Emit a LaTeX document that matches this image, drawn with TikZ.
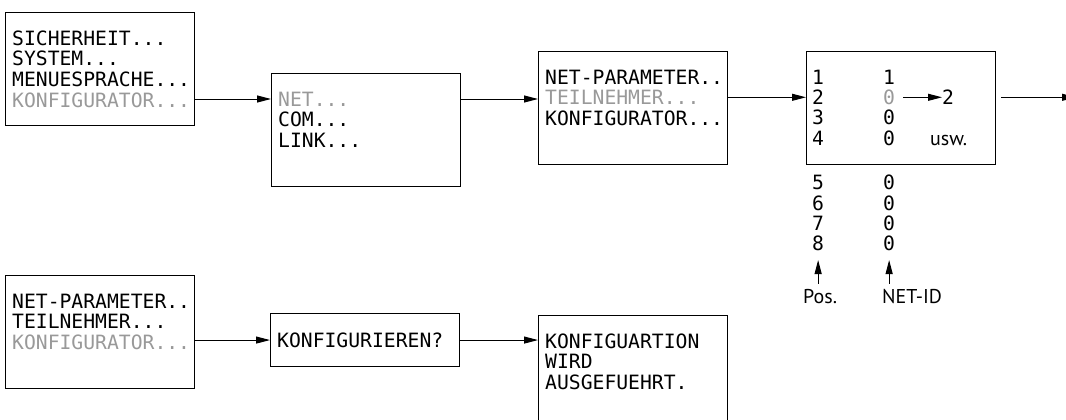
\documentclass[tikz,border=0pt]{standalone}
\usepackage{fontspec}
\newfontfamily\lcdfont{DejaVu Sans Mono}
\newfontfamily\notefont{PT Sans}
\usetikzlibrary{arrows.meta,positioning,calc}
\definecolor{lcdgray}{gray}{0.6}
\tikzstyle{screen} = [rectangle, draw, line width=1.1pt, minimum width=189pt, minimum height=113pt, inner sep=0pt, anchor=north west]
\tikzstyle{lcd} = [font=\lcdfont\fontsize{19.7}{20}\selectfont, inner sep=0pt, text height=14.4pt, text depth=0pt, anchor=west]
\tikzstyle{dim} = [lcd, text=lcdgray]
\tikzstyle{note} = [font=\notefont\fontsize{20}{22}\selectfont, inner sep=0pt, anchor=base west]
\tikzstyle{flow} = [-{Triangle[length=14pt,width=7pt]}, line width=1pt]

\begin{document}
\begin{tikzpicture}[x=1pt, y=-1pt]
\useasboundingbox (0,0) rectangle (1066,420);

% Top row: main menu
\node[screen] (menu1) at (5,12) {};
\node[lcd] (m1a) at ($(menu1.north west)+(7,26)$) {SICHERHEIT...};
\node[lcd, below=5.9pt of m1a.south west, anchor=north west] (m1b) {SYSTEM...};
\node[lcd, below=5.9pt of m1b.south west, anchor=north west] (m1c) {MENUESPRACHE...};
\node[dim, below=5.9pt of m1c.south west, anchor=north west] (m1d) {KONFIGURATOR...};

% Interface menu
\node[screen] (menu2) at (271,73) {};
\node[dim] (m2a) at ($(menu2.north west)+(7,26)$) {NET...};
\node[lcd, below=5.9pt of m2a.south west, anchor=north west] (m2b) {COM...};
\node[lcd, below=5.9pt of m2b.south west, anchor=north west] (m2c) {LINK...};

% NET menu
\node[screen] (menu3) at (538,51) {};
\node[lcd] (m3a) at ($(menu3.north west)+(7,26)$) {NET-PARAMETER..};
\node[dim, below=5.9pt of m3a.south west, anchor=north west] (m3b) {TEILNEHMER...};
\node[lcd, below=5.9pt of m3b.south west, anchor=north west] (m3c) {KONFIGURATOR...};

% Station table
\node[screen] (tab) at (806,51) {};
\foreach \i/\v/\c in {1/1/black,2/0/lcdgray,3/0/black,4/0/black,5/0/black,6/0/black,7/0/black,8/0/black} {
  \pgfmathsetmacro{\ry}{77+20.3*(\i-1)+(\i>4)*24.5}
  \node[lcd] (p\i) at (812,\ry) {\i};
  \node[lcd, text=\c] (n\i) at (883,\ry) {\v};
}
\node[lcd] (new) at (942,97.3) {2};
\node[note] (usw) at (930,145) {usw.};
\node[note] (pos) at (803,303) {Pos.};
\node[note] (netid) at (882,303) {NET-ID};
\coordinate (exit) at (1076,97.3);

% Bottom row
\node[screen] (menu5) at (5,275) {};
\node[lcd] (m5a) at ($(menu5.north west)+(7,26)$) {NET-PARAMETER..};
\node[lcd, below=5.9pt of m5a.south west, anchor=north west] (m5b) {TEILNEHMER...};
\node[dim, below=5.9pt of m5b.south west, anchor=north west] (m5c) {KONFIGURATOR...};

\node[screen, minimum height=53pt] (ask) at (270,313) {};
\node[lcd] (k) at ($(ask.west)+(7,0)$) {KONFIGURIEREN?};

\node[screen] (run) at (538,315) {};
\node[lcd] (r1) at ($(run.north west)+(7,26)$) {KONFIGUARTION};
\node[lcd, below=5.9pt of r1.south west, anchor=north west] (r2) {WIRD};
\node[lcd, below=5.9pt of r2.south west, anchor=north west] (r3) {AUSGEFUEHRT.};

% Arrows
\draw[flow] (menu1.east |- m2a) -- (menu2.west |- m2a);
\draw[flow] (menu2.east |- m2a) -- (menu3.west |- m2a);
\draw[flow] (menu3.east |- n2) -- (tab.west |- n2);
\draw[flow, shorten <=5pt] (tab.east |- n2) -- (exit);
\draw[flow, shorten <=8pt] (n2) -- (new);
\draw[flow, shorten <=5pt, shorten >=9pt] (pos.north -| p8) -- (p8);
\draw[flow, shorten <=5pt, shorten >=9pt] (netid.north -| n8) -- (n8);
\draw[flow] (menu5.east |- k) -- (ask.west |- k);
\draw[flow] (ask.east |- k) -- (run.west |- k);

\end{tikzpicture}
\end{document}
